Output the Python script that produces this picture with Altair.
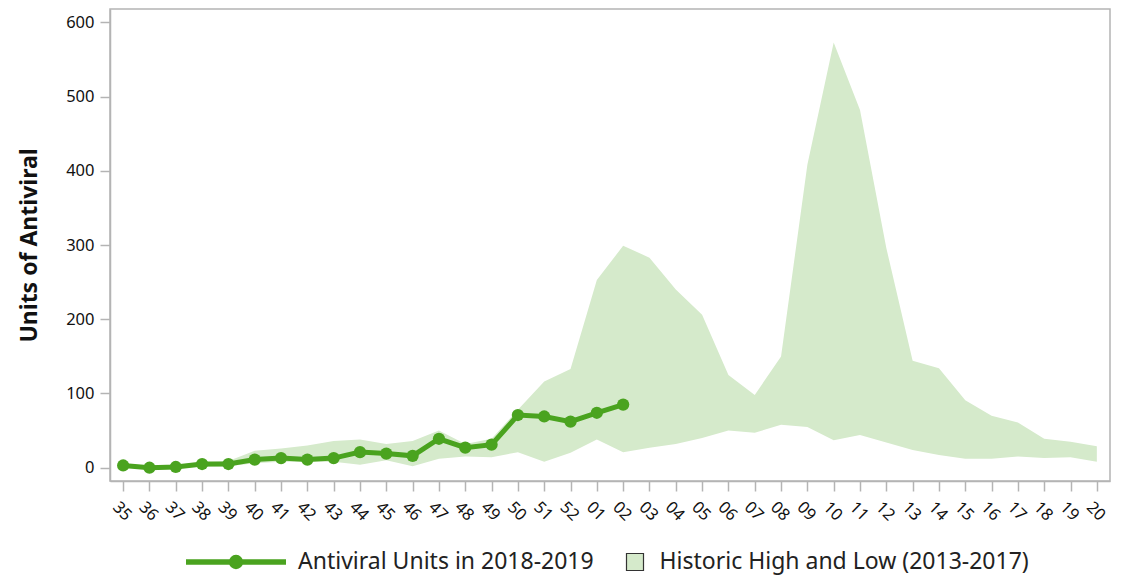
import altair as alt
import pandas as pd

weeks = ["35","36","37","38","39","40","41","42","43","44","45","46","47","48","49",
         "50","51","52","01","02","03","04","05","06","07","08","09","10","11","12",
         "13","14","15","16","17","18","19","20"]
hist_high = [5,3,4,7,9,23,26,30,36,38,32,36,50,32,39,78,116,133,253,299,283,240,206,
             125,98,150,408,573,482,296,144,134,91,70,61,39,35,29]
hist_low = [0,0,0,1,2,6,8,8,8,4,10,2,12,15,14,21,8,20,38,21,27,32,40,50,47,58,55,37,
            44,34,24,17,12,12,15,13,14,8]
units_weeks = weeks[:20]
units_values = [3,0,1,5,5,11,13,11,13,21,19,16,39,27,31,71,69,62,74,85]

LINE_LABEL = "Antiviral Units in 2018-2019"
AREA_LABEL = "Historic High and Low (2013-2017)"
GREEN = "#4aa31f"
LIGHT = "#d5eacb"
GREY = "#b4b4b4"
FONT = "Noto Sans"

hist = pd.DataFrame({"week": weeks, "high": hist_high, "low": hist_low, "series": AREA_LABEL})
line = pd.DataFrame({"week": units_weeks, "units": units_values, "series": LINE_LABEL})

xscale = alt.Scale(type="point", domain=weeks, padding=0.5, align=0.5)
yscale = alt.Scale(domain=[-17.9, 618], nice=False, zero=False)

xaxis = alt.Axis(title=None, labelAngle=45, labelAlign="center", labelBaseline="middle",
                 labelPadding=20, labelFontSize=16.5, tickSize=10, labelColor="#111",
                 labelOffset=-1.5)
yaxis = alt.Axis(title="Units of Antiviral", values=[0,100,200,300,400,500,600],
                 grid=False, tickSize=10, labelPadding=6, labelFontSize=16.5, labelColor="#111",
                 titleFontSize=23, titleFontWeight="bold", titlePadding=24, titleColor="#111")

LINE_SYMBOL = ("M-2.5,0L2.5,0"
               "M0.22,0A0.22,0.22,0,1,1,-0.22,0A0.22,0.22,0,1,1,0.22,0Z"
               "M0.08,0A0.08,0.08,0,1,1,-0.08,0A0.08,0.08,0,1,1,0.08,0Z")

area = alt.Chart(hist).mark_area(opacity=1).encode(
    x=alt.X("week:N", scale=xscale, axis=xaxis, sort=weeks),
    y=alt.Y("high:Q", scale=yscale, axis=yaxis),
    y2="low:Q",
    fill=alt.Fill("series:N", scale=alt.Scale(domain=[AREA_LABEL], range=[LIGHT]),
                  legend=alt.Legend(title=None, orient="none", legendX=513.5, legendY=541.5,
                                    symbolType="square", symbolSize=289,
                                    symbolStrokeColor="#333", symbolStrokeWidth=1.2,
                                    labelFontSize=23, labelOffset=13, labelColor="#222",
                                    labelFont=FONT, labelLimit=1000)),
)

lines = alt.Chart(line).mark_line(
    strokeWidth=5, point=alt.OverlayMarkDef(filled=True, size=150, opacity=1)
).encode(
    x=alt.X("week:N", scale=xscale, sort=weeks),
    y=alt.Y("units:Q", scale=yscale),
    color=alt.Color("series:N", scale=alt.Scale(domain=[LINE_LABEL], range=[GREEN]),
                    legend=alt.Legend(title=None, orient="none", legendX=103, legendY=530,
                                      symbolType=LINE_SYMBOL, symbolSize=1600,
                                      symbolStrokeWidth=5.5, symbolStrokeColor=GREEN,
                                      symbolFillColor=GREEN,
                                      labelFontSize=23, labelOffset=39, labelColor="#222",
                                      labelFont=FONT, labelLimit=1000)),
)

chart = alt.layer(area, lines).resolve_scale(color="independent", fill="independent").properties(
    width=1000, height=472,
    autosize=alt.AutoSizeParams(type="none"),
    padding={"left": 102, "top": 1, "right": 4, "bottom": 95},
).configure(font=FONT).configure_view(
    stroke=GREY, strokeWidth=1.5
).configure_axis(
    domainColor=GREY, domainWidth=1.5, tickColor=GREY, tickWidth=1.5,
    labelFont=FONT, titleFont=FONT
)

chart.save("out.html", embed_options={"renderer": "svg", "actions": False})
